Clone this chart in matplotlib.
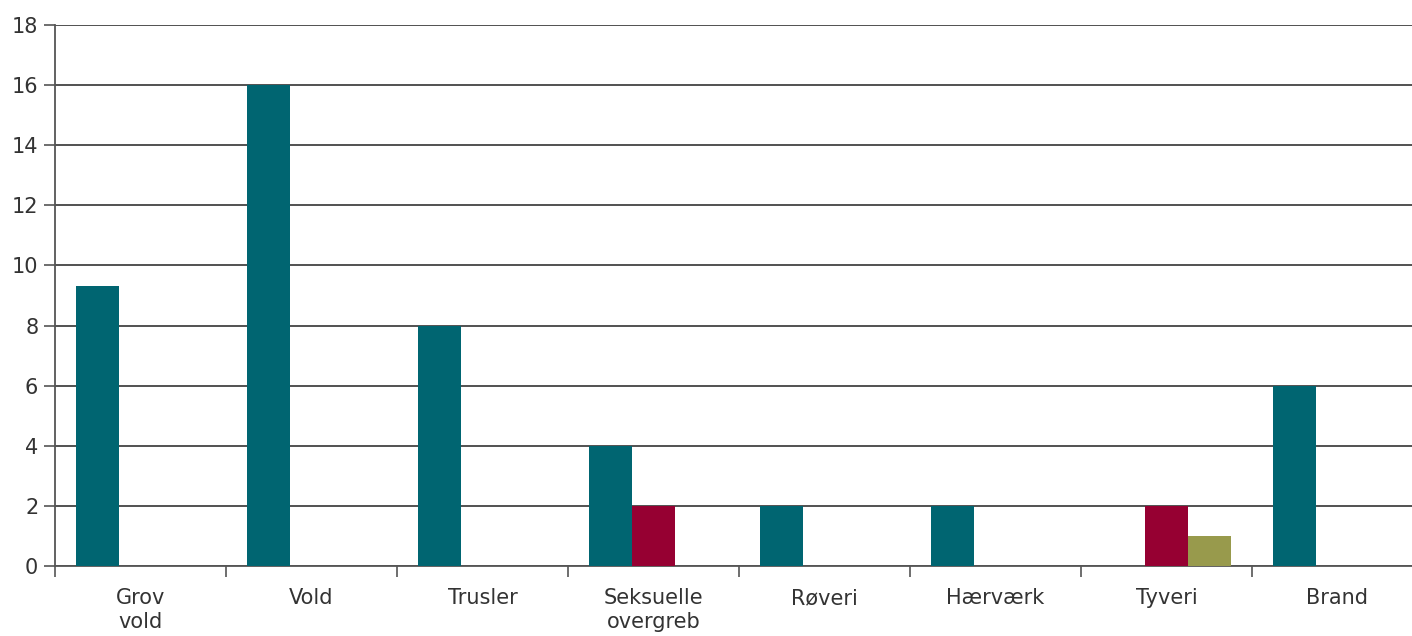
import matplotlib.pyplot as plt
import numpy as np

# Categories and series values
categories = ['Grov\nvold', 'Vold', 'Trusler', 'Seksuelle\novergreb', 'Røveri', 'Hærværk', 'Tyveri', 'Brand']
series_1 = [9.3, 16, 8, 4, 2, 2, 0, 6]
series_2 = [0, 0, 0, 2, 0, 0, 2, 0]
series_3 = [0, 0, 0, 0, 0, 0, 1, 0]
yticks = [0, 2, 4, 6, 8, 10, 12, 14, 16, 18]

colors = ['#006571', '#960032', '#989a4c']

fig = plt.figure(figsize=(14.12, 6.36), dpi=100)
ax = fig.add_axes([55 / 1412, 1 - 566 / 636, 1368 / 1412, 541 / 636])

x = np.arange(len(categories))
width = 0.25
for i, (vals, c) in enumerate(zip([series_1, series_2, series_3], colors)):
    ax.bar(x + (i - 1) * width, vals, width=width, color=c, zorder=3)

ax.set_xlim(-0.5, len(categories) - 0.5)
ax.set_ylim(0, 18)
ax.set_yticks(yticks)
ax.yaxis.grid(True, color='#333333', linewidth=1.2, zorder=1)
ax.set_axisbelow(True)

ax.set_xticks(x)
ax.set_xticklabels(categories, fontsize=15, color='#333333', linespacing=1.25)
ax.tick_params(axis='x', which='major', length=0, pad=16)
ax.set_xticks(np.arange(len(categories) + 1) - 0.5, minor=True)
ax.tick_params(axis='x', which='minor', length=8, width=1.2, color='#555555', direction='out')
ax.tick_params(axis='y', length=8, width=1.2, color='#555555', labelsize=15, labelcolor='#333333', pad=4)

for s in ['top', 'right']:
    ax.spines[s].set_visible(False)
ax.spines['left'].set_color('#555555')
ax.spines['left'].set_linewidth(1.3)
ax.spines['bottom'].set_color('#555555')
ax.spines['bottom'].set_linewidth(1.3)

fig.savefig('out.png', dpi=100)
